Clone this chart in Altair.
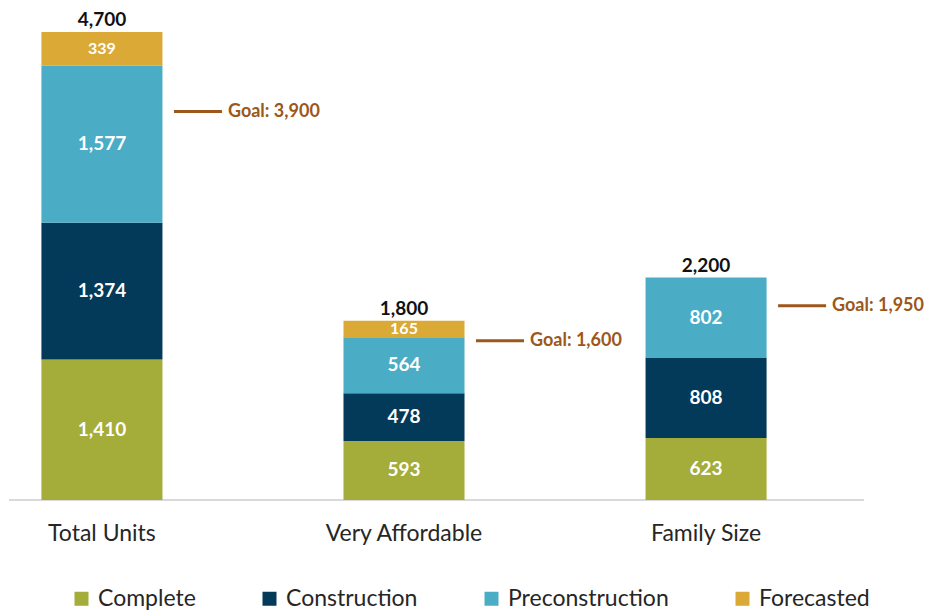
import altair as alt
import pandas as pd

categories = ["Total Units", "Very Affordable", "Family Size"]
series = ["Complete", "Construction", "Preconstruction", "Forecasted"]
complete = [1410, 593, 623]
construction = [1374, 478, 808]
preconstruction = [1577, 564, 802]
forecasted = [339, 165, 0]
total_labels = [4700, 1800, 2200]
goals = [3900, 1600, 1950]
colors = ["#a4ac3a", "#033959", "#4bacc6", "#dba935"]

FONT = "Lato"

rows = []
tops = []
for i, cat in enumerate(categories):
    start = 0
    for s, vals in zip(series, [complete, construction, preconstruction, forecasted]):
        v = vals[i]
        if v > 0:
            rows.append({"cat": cat, "series": s, "value": v, "start": start,
                         "end": start + v, "mid": start + v / 2})
        start += v
    tops.append(start)
seg = pd.DataFrame(rows)
summary = pd.DataFrame({"cat": categories, "top": tops, "total": total_labels,
                        "goal": goals,
                        "goal_label": [f"Goal: {g:,}" for g in goals]})

xsc = alt.Scale(domain=categories, paddingInner=0.5993, paddingOuter=0.104)
ysc = alt.Scale(domain=[0, 4860], nice=False)
xenc = alt.X("cat:N", scale=xsc, sort=categories,
             axis=alt.Axis(title=None, domain=False, ticks=False, labelAngle=0,
                           labelFont=FONT, labelFontSize=23, labelColor="#262626",
                           labelPadding=22))

bars = alt.Chart(seg).mark_bar().encode(
    x=xenc,
    y=alt.Y("start:Q", scale=ysc, axis=None),
    y2="end:Q",
    color=alt.Color("series:N", scale=alt.Scale(domain=series, range=colors),
                    sort=series,
                    legend=alt.Legend(title=None, orient="none", direction="horizontal",
                                      legendX=60, legendY=571, symbolType="square",
                                      symbolSize=196, symbolStrokeWidth=0,
                                      labelFont=FONT, labelFontSize=23,
                                      labelColor="#262626", labelOffset=5,
                                      labelLimit=0, columnPadding=62)),
)

seg_text = alt.Chart(seg).mark_text(font=FONT, fontWeight="bold", color="white",
                                    baseline="middle").encode(
    x=alt.X("cat:N", scale=xsc, sort=categories),
    y=alt.Y("mid:Q", scale=ysc),
    text=alt.Text("value:Q", format=","),
    size=alt.condition("datum.value < 400", alt.value(16), alt.value(19)),
)

tot_text = alt.Chart(summary).mark_text(font=FONT, fontWeight="bold", color="#111111",
                                        fontSize=19, baseline="bottom", dy=-2).encode(
    x=alt.X("cat:N", scale=xsc, sort=categories),
    y=alt.Y("top:Q", scale=ysc),
    text=alt.Text("total:Q", format=","),
)

goal_line = alt.Chart(summary).mark_rule(color="#9c571b", strokeWidth=3,
                                         xOffset=72, x2Offset=120).encode(
    x=alt.X("cat:N", scale=xsc, sort=categories),
    x2="cat:N",
    y=alt.Y("goal:Q", scale=ysc),
)

goal_text = alt.Chart(summary).mark_text(font=FONT, fontWeight="bold", color="#9c571b",
                                         fontSize=18, align="left", baseline="middle",
                                         dx=126).encode(
    x=alt.X("cat:N", scale=xsc, sort=categories),
    y=alt.Y("goal:Q", scale=ysc),
    text="goal_label:N",
)

baseline = alt.Chart(summary).mark_rule(color="#d9d9d9", strokeWidth=1.5).encode(
    x=alt.value(-1), x2=alt.value(854), y=alt.value(484),
)

chart = alt.layer(baseline, bars, seg_text, tot_text, goal_line, goal_text).properties(
    width=788, height=484, padding={"top": 2, "left": 0, "right": 0, "bottom": 0},
).configure_view(stroke=None)

chart.save("out.html", embed_options={"renderer": "svg", "actions": False})
